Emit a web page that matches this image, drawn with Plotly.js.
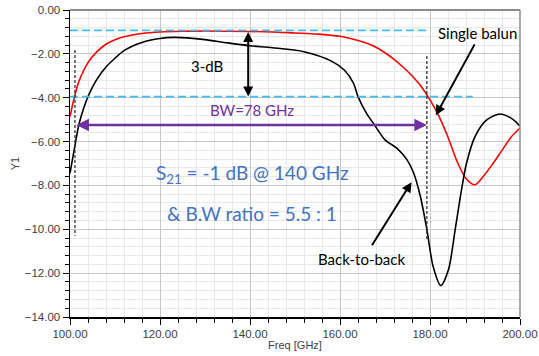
<!DOCTYPE html>
<html>
<head>
<meta charset="utf-8">
<script src="https://cdn.plot.ly/plotly-3.0.1.min.js"></script>
<style>html,body{margin:0;padding:0;background:#fff;}#chart{width:539px;height:356px;}</style>
</head>
<body>
<div id="chart"></div>
<script>
// Single balun (red)
const singleFreq = [100, 101, 102, 104, 106, 108, 110, 112, 116, 120, 125, 130, 140, 145, 150, 155, 160, 163, 166, 168, 170, 172, 174, 176, 178, 180, 182, 184, 186, 188, 190, 192, 194, 196, 198, 200];
const singleS21 = [-4.86, -3.95, -3.25, -2.4, -1.9, -1.56, -1.36, -1.22, -1.07, -1.0, -0.97, -0.96, -0.98, -1.0, -1.05, -1.1, -1.2, -1.33, -1.52, -1.7, -1.95, -2.25, -2.6, -3.0, -3.48, -4.1, -4.85, -5.8, -6.9, -7.68, -7.97, -7.55, -7.0, -6.4, -5.8, -5.38];
// Back-to-back (black)
const b2bFreq = [100, 101, 102, 103, 104, 106, 108, 110, 112, 116, 120, 123, 126, 130, 135, 140, 145, 152, 158, 161, 163, 164, 166, 167.4, 170, 172.6, 174.8, 176.3, 177.8, 179.3, 180.7, 182.4, 184.1, 185.6, 187, 188.1, 190, 192.6, 195.6, 198.5, 200];
const b2bS21 = [-7.44, -6.3, -5.2, -4.5, -3.95, -3.15, -2.6, -2.2, -1.85, -1.48, -1.3, -1.25, -1.27, -1.35, -1.5, -1.63, -1.72, -1.9, -2.32, -2.75, -3.34, -3.95, -4.75, -5.16, -5.92, -6.3, -6.8, -7.4, -8.45, -10.0, -11.7, -12.57, -11.85, -10.0, -8.2, -7.0, -5.77, -5.01, -4.74, -5.0, -5.3];
// reference levels (3-dB band) and their right ends
const refLevels = [-0.93, -3.95];
const refEnds = [180, 189.5];
// band edges (vertical dashed markers)
const bwEdges = [101.1, 179.3];
const edgeTop = [-1.82, -2.1];
const edgeBottom = [-10.3, -10.5];
const bwArrowY = -5.24;
const threeDbX = 139.6;

const blue = '#3fbdf0';
const shapes = [];
refLevels.forEach((lv, i) => {
  shapes.push({type:'line', xref:'x', yref:'y', x0:100, x1:refEnds[i], y0:lv, y1:lv,
    line:{color:blue, width:1.6, dash:'8px,4px'}});
});
bwEdges.forEach((e, i) => {
  shapes.push({type:'line', xref:'x', yref:'y', x0:e, x1:e, y0:edgeTop[i], y1:edgeBottom[i],
    line:{color:'#333', width:1.3, dash:'3px,2px'}});
});
// top and right frame
shapes.push({type:'line', xref:'paper', yref:'paper', x0:0, x1:1, y0:1, y1:1, line:{color:'#8c8c8c', width:2}});
shapes.push({type:'line', xref:'paper', yref:'paper', x0:1, x1:1, y0:0, y1:1, line:{color:'#8c8c8c', width:1.5}});

const calib = 'Lato, "Open Sans", sans-serif';
const annotations = [
  {x:threeDbX, y:refLevels[1], ax:threeDbX, ay:refLevels[0], xref:'x', yref:'y', axref:'x', ayref:'y',
   text:'', showarrow:true, arrowhead:2, arrowside:'end+start', arrowsize:1, arrowwidth:2, arrowcolor:'#000', standoff:0, startstandoff:0},
  {x:bwEdges[1], y:bwArrowY, ax:bwEdges[0], ay:bwArrowY, xref:'x', yref:'y', axref:'x', ayref:'y',
   text:'', showarrow:true, arrowhead:2, arrowside:'end+start', arrowsize:1, arrowwidth:2.5, arrowcolor:'#7030a0', standoff:0, startstandoff:0},
  {x:130.5, y:-2.55, xref:'x', yref:'y', text:'3-dB', showarrow:false, font:{family:calib, size:15, color:'#000'}},
  {x:140.5, y:-4.58, xref:'x', yref:'y', text:'BW=78 GHz', showarrow:false, font:{family:calib, size:15, color:'#7030a0'}},
  {x:190.5, y:-1.05, xref:'x', yref:'y', text:'Single balun', showarrow:false, font:{family:calib, size:15, color:'#000'}},
  {x:181.3, y:-4.8, ax:190.1, ay:-1.5, xref:'x', yref:'y', axref:'x', ayref:'y',
   text:'', showarrow:true, arrowhead:2, arrowsize:1, arrowwidth:2, arrowcolor:'#000', standoff:0},
  {x:164.8, y:-11.35, xref:'x', yref:'y', text:'Back-to-back', showarrow:false, font:{family:calib, size:15, color:'#000'}},
  {x:175.9, y:-7.85, ax:166.9, ay:-10.8, xref:'x', yref:'y', axref:'x', ayref:'y',
   text:'', showarrow:true, arrowhead:2, arrowsize:1, arrowwidth:2, arrowcolor:'#000', standoff:0},
  {x:140.5, y:-7.48, xref:'x', yref:'y', text:'S<sub>21</sub> = -1 dB @ 140 GHz', showarrow:false, font:{family:calib, size:19, color:'#4472c4'}},
  {x:140.5, y:-9.3, xref:'x', yref:'y', text:'&amp; B.W ratio = 5.5 : 1', showarrow:false, font:{family:calib, size:19, color:'#4472c4'}}
];

const traces = [
  {x:singleFreq, y:singleS21, mode:'lines', line:{color:'#ff0000', width:1.6, shape:'spline', smoothing:0.8}, name:'Single balun', hoverinfo:'skip'},
  {x:b2bFreq, y:b2bS21, mode:'lines', line:{color:'#000000', width:1.6, shape:'spline', smoothing:0.8}, name:'Back-to-back', hoverinfo:'skip'}
];

const axisFont = {family:'Arial, "Liberation Sans", sans-serif', size:11.5, color:'#404040'};
const layout = {
  width:539, height:356,
  margin:{l:70, r:19, t:10, b:39},
  paper_bgcolor:'#fff', plot_bgcolor:'#fff',
  showlegend:false,
  xaxis:{range:[100,200], tick0:100, dtick:20, tickformat:'.2f', tickfont:axisFont,
    showgrid:true, gridcolor:'#c8c8c8', gridwidth:1, zeroline:false,
    showline:true, linecolor:'#000', linewidth:1.5, ticks:'outside', ticklen:6, tickcolor:'#000', tickwidth:1,
    minor:{dtick:4, tick0:100, showgrid:true, gridcolor:'#e8e8e8', gridwidth:1, ticks:'outside', ticklen:4, tickcolor:'#000'},
    title:{text:'Freq [GHz]', font:{family:axisFont.family, size:11, color:'#404040'}, standoff:2}},
  yaxis:{range:[-14,0], tick0:0, dtick:2, tickformat:'.2f', tickfont:axisFont,
    showgrid:true, gridcolor:'#c8c8c8', gridwidth:1, zeroline:false,
    showline:true, linecolor:'#000', linewidth:1.5, ticks:'outside', ticklen:6, tickcolor:'#000', tickwidth:1,
    minor:{dtick:0.4, tick0:0, showgrid:true, gridcolor:'#e8e8e8', gridwidth:1, ticks:'outside', ticklen:4, tickcolor:'#000'},
    title:{text:'Y1', font:{family:axisFont.family, size:11, color:'#404040'}, standoff:3}},
  shapes:shapes,
  annotations:annotations
};
Plotly.newPlot('chart', traces, layout, {staticPlot:true, displayModeBar:false});
</script>
</body>
</html>
